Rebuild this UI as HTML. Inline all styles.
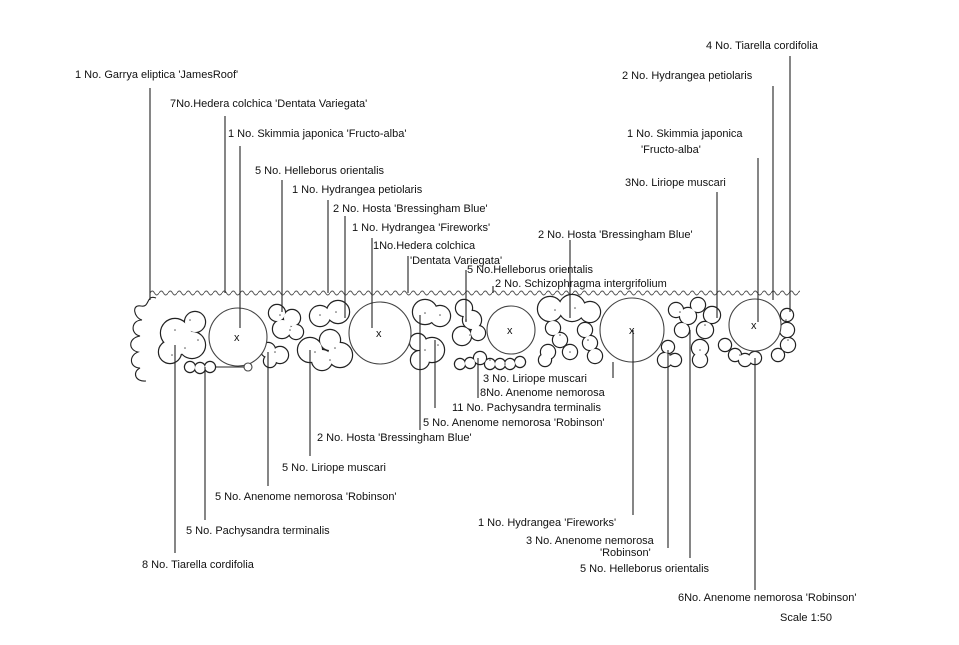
<!DOCTYPE html>
<html><head><meta charset="utf-8"><style>
html,body{margin:0;padding:0;background:#fff;}
svg{display:block;}
text{font-family:"Liberation Sans",sans-serif;font-size:11px;fill:#111;}
.big circle{fill:#fff;stroke:#444;stroke-width:1.1;}
.l{stroke:#222;stroke-width:1.1;fill:none;}
.d circle{fill:#555;}
</style></head><body>
<svg width="959" height="645" viewBox="0 0 959 645">
<defs>
<pattern id="w" x="150" y="289" width="9" height="8" patternUnits="userSpaceOnUse">
<path d="M0 4 Q2.25 0 4.5 4 T9 4" fill="none" stroke="#555" stroke-width="0.9"/>
</pattern>
<g id="blobs">
<circle cx="175" cy="333" r="14"/><circle cx="195" cy="322" r="10"/><circle cx="192" cy="345" r="13"/><circle cx="170" cy="352" r="11"/><circle cx="180" cy="340" r="14"/>
<circle cx="190" cy="367" r="5"/><circle cx="200" cy="368" r="5"/><circle cx="210" cy="367" r="5"/>
<circle cx="277" cy="313" r="8"/><circle cx="292" cy="318" r="8"/><circle cx="282" cy="329" r="9"/><circle cx="296" cy="332" r="7"/>
<circle cx="268" cy="350" r="7"/><circle cx="280" cy="355" r="8"/><circle cx="270" cy="361" r="6"/>
<circle cx="320" cy="316" r="10"/><circle cx="338" cy="312" r="11"/>
<circle cx="310" cy="350" r="12"/><circle cx="330" cy="340" r="10"/><circle cx="340" cy="355" r="12"/><circle cx="322" cy="360" r="10"/>
<circle cx="425" cy="312" r="12"/><circle cx="440" cy="316" r="10"/>
<circle cx="418" cy="342" r="8"/><circle cx="432" cy="350" r="12"/><circle cx="420" cy="360" r="9"/>
<circle cx="464" cy="308" r="8"/><circle cx="472" cy="320" r="9"/><circle cx="462" cy="336" r="9"/><circle cx="478" cy="333" r="7"/>
<circle cx="460" cy="364" r="5"/><circle cx="470" cy="363" r="5"/><circle cx="480" cy="358" r="6"/><circle cx="490" cy="364" r="5"/><circle cx="500" cy="364" r="5"/><circle cx="510" cy="364" r="5"/><circle cx="520" cy="362" r="5"/>
<circle cx="550" cy="309" r="12"/><circle cx="572" cy="308" r="13"/><circle cx="590" cy="312" r="10"/>
<circle cx="553" cy="328" r="7"/><circle cx="560" cy="340" r="7"/><circle cx="570" cy="352" r="7"/><circle cx="548" cy="352" r="7"/><circle cx="545" cy="360" r="6"/>
<circle cx="585" cy="330" r="7"/><circle cx="590" cy="343" r="7"/><circle cx="595" cy="356" r="7"/>
<circle cx="676" cy="310" r="7"/><circle cx="688" cy="316" r="8"/><circle cx="682" cy="330" r="7"/><circle cx="698" cy="305" r="7"/>
<circle cx="668" cy="347" r="6"/><circle cx="665" cy="360" r="7"/><circle cx="675" cy="360" r="6"/>
<circle cx="712" cy="315" r="8"/><circle cx="705" cy="330" r="8"/><circle cx="700" cy="348" r="8"/><circle cx="700" cy="360" r="7"/>
<circle cx="725" cy="345" r="6"/><circle cx="735" cy="355" r="6"/><circle cx="745" cy="360" r="6"/><circle cx="755" cy="358" r="6"/>
<circle cx="787" cy="315" r="6"/><circle cx="787" cy="330" r="7"/><circle cx="788" cy="345" r="7"/><circle cx="778" cy="355" r="6"/>
</g>
</defs>
<rect x="150" y="289" width="650" height="8" fill="url(#w)"/>
<path class="l" d="M156 298 C146 294 150 308 141 306 C131 304 134 318 142 320 C131 320 130 334 140 336 C128 338 128 350 138 352 C128 356 130 368 140 368 C132 372 135 382 146 381"/>

<use href="#blobs" fill="#fff" stroke="#222" stroke-width="2.4"/>
<use href="#blobs" fill="#fff" stroke="none"/>

<g class="big">
<circle cx="238" cy="337" r="29"/>
<circle cx="248" cy="367" r="4"/>
<circle cx="380" cy="333" r="31"/>
<circle cx="511" cy="330" r="24"/>
<circle cx="632" cy="330" r="32"/>
<circle cx="755" cy="325" r="26"/>
</g>
<g class="d">
<circle cx="175" cy="330" r="0.8"/><circle cx="190" cy="320" r="0.8"/><circle cx="185" cy="348" r="0.8"/><circle cx="172" cy="355" r="0.8"/><circle cx="198" cy="340" r="0.8"/>
<circle cx="280" cy="315" r="0.8"/><circle cx="290" cy="330" r="0.8"/><circle cx="275" cy="352" r="0.8"/>
<circle cx="320" cy="315" r="0.8"/><circle cx="336" cy="312" r="0.8"/><circle cx="315" cy="352" r="0.8"/><circle cx="335" cy="348" r="0.8"/><circle cx="330" cy="360" r="0.8"/>
<circle cx="425" cy="313" r="0.8"/><circle cx="440" cy="315" r="0.8"/><circle cx="425" cy="350" r="0.8"/><circle cx="438" cy="345" r="0.8"/>
<circle cx="466" cy="320" r="0.8"/><circle cx="470" cy="335" r="0.8"/><circle cx="490" cy="360" r="0.8"/><circle cx="505" cy="364" r="0.8"/>
<circle cx="555" cy="310" r="0.8"/><circle cx="575" cy="308" r="0.8"/><circle cx="560" cy="335" r="0.8"/><circle cx="588" cy="340" r="0.8"/><circle cx="570" cy="352" r="0.8"/>
<circle cx="680" cy="312" r="0.8"/><circle cx="705" cy="325" r="0.8"/><circle cx="700" cy="350" r="0.8"/><circle cx="670" cy="355" r="0.8"/><circle cx="740" cy="355" r="0.8"/><circle cx="786" cy="320" r="0.8"/><circle cx="788" cy="340" r="0.8"/>
</g>
<g font-size="10">
<text x="234" y="341">x</text><text x="376" y="337">x</text><text x="507" y="334">x</text><text x="629" y="334">x</text><text x="751" y="329">x</text>
</g>

<!-- leader lines top -->
<g class="l">
<line x1="150" y1="88" x2="150" y2="300"/>
<line x1="225" y1="116" x2="225" y2="293"/>
<line x1="240" y1="146" x2="240" y2="328"/>
<line x1="282" y1="180" x2="282" y2="312"/>
<line x1="328" y1="200" x2="328" y2="293"/>
<line x1="345" y1="216" x2="345" y2="318"/>
<line x1="372" y1="238" x2="372" y2="328"/>
<line x1="408" y1="256" x2="408" y2="293"/>
<line x1="466" y1="270" x2="466" y2="322"/>
<line x1="493" y1="286" x2="493" y2="293"/>
<line x1="570" y1="240" x2="570" y2="318"/>
<line x1="790" y1="56" x2="790" y2="312"/>
<line x1="773" y1="86" x2="773" y2="300"/>
<line x1="758" y1="158" x2="758" y2="322"/>
<line x1="717" y1="192" x2="717" y2="318"/>
<line x1="215" y1="367" x2="244" y2="367"/>
</g>

<!-- leader lines bottom -->
<g class="l">
<line x1="175" y1="345" x2="175" y2="553"/>
<line x1="205" y1="367" x2="205" y2="520"/>
<line x1="268" y1="352" x2="268" y2="486"/>
<line x1="310" y1="350" x2="310" y2="456"/>
<line x1="420" y1="315" x2="420" y2="430"/>
<line x1="435" y1="340" x2="435" y2="408"/>
<line x1="478" y1="358" x2="478" y2="398"/>
<line x1="613" y1="362" x2="613" y2="378"/>
<line x1="633" y1="330" x2="633" y2="515"/>
<line x1="668" y1="350" x2="668" y2="548"/>
<line x1="690" y1="330" x2="690" y2="558"/>
<line x1="755" y1="358" x2="755" y2="590"/>
</g>

<!-- labels -->
<text x="75" y="78">1 No. Garrya eliptica 'JamesRoof'</text>
<text x="170" y="107">7No.Hedera colchica 'Dentata Variegata'</text>
<text x="228" y="137">1 No. Skimmia japonica 'Fructo-alba'</text>
<text x="255" y="174">5 No. Helleborus orientalis</text>
<text x="292" y="193">1 No. Hydrangea petiolaris</text>
<text x="333" y="212">2 No. Hosta 'Bressingham Blue'</text>
<text x="352" y="231">1 No. Hydrangea 'Fireworks'</text>
<text x="373" y="249">1No.Hedera colchica</text>
<text x="410" y="264">'Dentata Variegata'</text>
<text x="467" y="273">5 No.Helleborus orientalis</text>
<text x="538" y="238">2 No. Hosta 'Bressingham Blue'</text>
<text x="495" y="287">2 No. Schizophragma intergrifolium</text>
<text x="706" y="49">4 No. Tiarella cordifolia</text>
<text x="622" y="79">2 No. Hydrangea petiolaris</text>
<text x="627" y="137">1 No. Skimmia japonica</text>
<text x="641" y="153">'Fructo-alba'</text>
<text x="625" y="186">3No. Liriope muscari</text>

<text x="483" y="382">3 No. Liriope muscari</text>
<text x="480" y="396">8No. Anenome nemorosa</text>
<text x="452" y="411">11 No. Pachysandra terminalis</text>
<text x="423" y="426">5 No. Anenome nemorosa 'Robinson'</text>
<text x="317" y="441">2 No. Hosta 'Bressingham Blue'</text>
<text x="282" y="471">5 No. Liriope muscari</text>
<text x="215" y="500">5 No. Anenome nemorosa 'Robinson'</text>
<text x="186" y="534">5 No. Pachysandra terminalis</text>
<text x="142" y="568">8 No. Tiarella cordifolia</text>
<text x="478" y="526">1 No. Hydrangea 'Fireworks'</text>
<text x="526" y="544">3 No. Anenome nemorosa</text>
<text x="600" y="556">'Robinson'</text>
<text x="580" y="572">5 No. Helleborus orientalis</text>
<text x="678" y="601">6No. Anenome nemorosa 'Robinson'</text>
<text x="780" y="621">Scale 1:50</text>
</svg>
</body></html>
